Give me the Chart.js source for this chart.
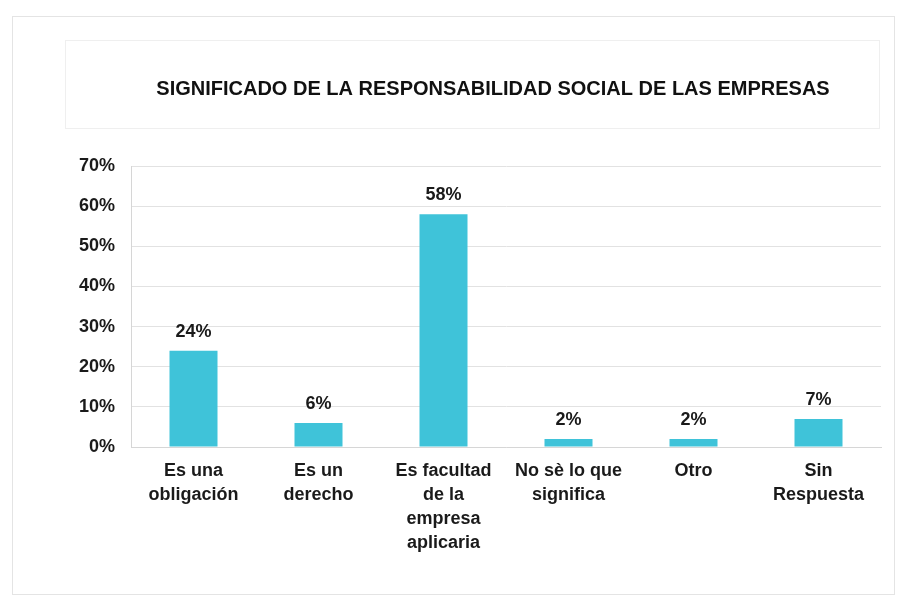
<!DOCTYPE html>
<html lang="es">
<head>
<meta charset="utf-8">
<title>Significado de la responsabilidad social de las empresas</title>
<script src="https://cdn.jsdelivr.net/npm/chart.js@4/dist/chart.umd.min.js"></script>
<style>
  html, body { margin: 0; padding: 0; background: #ffffff; }
  #wrap { position: relative; width: 902px; height: 597px; }
</style>
</head>
<body>
<div id="wrap"><canvas id="rseChart" width="902" height="597"></canvas></div>
<script>
// ── Data ─────────────────────────────────────────────
var categories = [
  ["Es una", "obligación"],
  ["Es un", "derecho"],
  ["Es facultad", "de la", "empresa", "aplicaria"],
  ["No sè lo que", "significa"],
  ["Otro"],
  ["Sin", "Respuesta"]
];
var percentages = [24, 6, 58, 2, 2, 7];
var yTicks = [0, 10, 20, 30, 40, 50, 60, 70];
var chartTitle = "SIGNIFICADO DE LA RESPONSABILIDAD SOCIAL DE LAS EMPRESAS";

var FONT = "'Liberation Sans', Arial, Helvetica, sans-serif";
var BAR_COLOR = "#3fc3d9";
var TEXT_COLOR = "#1a1a1a";

// faint frames (whole figure + title block) and the title itself
var titlePlugin = {
  id: "titleBlock",
  beforeDraw: function(chart) {
    var c = chart.ctx;
    c.save();
    c.strokeStyle = "#e4e4e4";
    c.lineWidth = 1;
    c.strokeRect(12.5, 16.5, 882, 578);
    c.strokeStyle = "#efefef";
    c.strokeRect(65.5, 40.5, 814, 88);
    c.font = "bold 20px " + FONT;
    c.fillStyle = "#111111";
    c.textAlign = "center";
    c.textBaseline = "middle";
    c.fillText(chartTitle, 493, 89);
    c.restore();
  }
};

// value labels above each bar
var valueLabels = {
  id: "valueLabels",
  afterDatasetsDraw: function(chart) {
    var c = chart.ctx;
    var meta = chart.getDatasetMeta(0);
    c.save();
    c.font = "bold 18px " + FONT;
    c.fillStyle = TEXT_COLOR;
    c.textAlign = "center";
    c.textBaseline = "middle";
    meta.data.forEach(function(bar, i) {
      c.fillText(percentages[i] + "%", bar.x, bar.y - 19);
    });
    c.restore();
  }
};

new Chart(document.getElementById("rseChart"), {
  type: "bar",
  data: {
    labels: categories,
    datasets: [{
      data: percentages,
      backgroundColor: BAR_COLOR,
      borderWidth: 0,
      barPercentage: 0.384,
      categoryPercentage: 1
    }]
  },
  options: {
    responsive: false,
    animation: false,
    layout: { padding: { left: 0, right: 21, top: 166, bottom: 10 } },
    plugins: {
      legend: { display: false },
      tooltip: { enabled: false },
      title: { display: false }
    },
    scales: {
      x: {
        grid: { display: false, drawTicks: false },
        border: { color: "#d6d6d6" },
        ticks: {
          color: TEXT_COLOR,
          padding: 12,
          maxRotation: 0,
          autoSkip: false,
          font: { family: FONT, size: 18, weight: "bold", lineHeight: 1.33 }
        },
        afterFit: function(scale) { scale.height = 140; }
      },
      y: {
        min: 0,
        max: 70,
        afterBuildTicks: function(scale) {
          scale.ticks = yTicks.map(function(v) { return { value: v }; });
        },
        grid: { color: "#e2e2e2", drawTicks: false },
        border: { color: "#d6d6d6" },
        ticks: {
          color: TEXT_COLOR,
          padding: 16,
          font: { family: FONT, size: 18, weight: "bold" },
          callback: function(v) { return v + "%"; }
        },
        afterFit: function(scale) { scale.width = 131; }
      }
    }
  },
  plugins: [titlePlugin, valueLabels]
});
</script>
</body>
</html>
